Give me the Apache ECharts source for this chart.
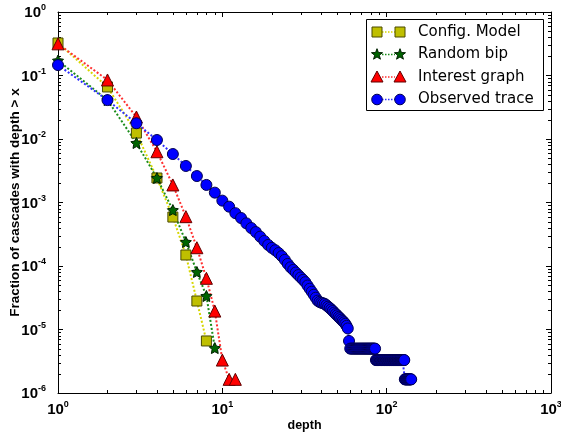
<!DOCTYPE html>
<html><head><meta charset="utf-8">
<script src="https://cdn.jsdelivr.net/npm/echarts@6/dist/echarts.min.js"></script>
<style>html,body{margin:0;padding:0;background:#fff}#c{width:561px;height:436px}</style>
</head><body><div id="c"></div>
<script>
// ---- data ----
const configDepth = [1, 2, 3, 4, 5, 6, 7, 8];
const configValues = [0.325, 0.066, 0.0124, 0.00243, 5.9e-4, 1.49e-4, 2.81e-5, 6.6e-6];

const randomDepth = [1, 2, 3, 4, 5, 6, 7, 8, 9];
const randomValues = [0.172, 0.041, 0.00865, 0.00243, 7.6e-4, 2.39e-4, 8.05e-5, 3.37e-5, 5.1e-6];

const interestDepth = [1, 2, 3, 4, 5, 6, 7, 8, 9, 10, 11, 12];
const interestValues = [0.315, 0.085, 0.0222, 0.0063, 0.00189, 5.98e-4, 1.94e-4, 6.4e-5, 1.95e-5, 3.3e-6, 1.64e-6, 1.64e-6];

const observedDepth = [
  1,2,3,4,5,6,7,8,9,10,11,12,13,14,15,16,17,18,19,20,
  21,22,23,24,25,26,27,28,29,30,31,32,33,34,35,36,37,38,39,40,
  41,42,43,44,45,46,47,48,49,50,51,52,53,54,55,56,57,58,59,60,
  61,62,63,64,65,66,67,68,69,70,71,72,73,74,75,76,77,78,79,80,
  81,82,83,84,85,86,87,88,89,90,91,92,93,94,95,96,97,98,99,100,
  101,102,103,104,105,106,107,108,109,110,111,112,113,114,115,116,117,118,119,120,
  121,122,123,124,125,126,127,128,129,130,131,132,133,134,135,136,137,138,139,140,141
];
const observedValues = [
  0.146, 0.041, 0.0177, 0.00964, 0.0058, 0.00376, 0.00261, 0.00189, 0.00143, 0.00107,
  8.6e-4, 6.8e-4, 5.7e-4, 4.7e-4, 3.96e-4, 3.42e-4, 2.9e-4, 2.48e-4, 2.15e-4, 1.93e-4,
  1.77e-4, 1.6e-4, 1.43e-4, 1.25e-4, 1.08e-4, 9.55e-5, 8.7e-5, 7.9e-5, 7.2e-5, 6.6e-5,
  6.06e-5, 5.56e-5, 4.93e-5, 4.39e-5, 3.94e-5, 3.53e-5, 3.17e-5, 2.85e-5, 2.72e-5, 2.64e-5,
  2.59e-5, 2.53e-5, 2.41e-5, 2.29e-5, 2.18e-5, 2.07e-5, 1.96e-5, 1.85e-5, 1.75e-5, 1.67e-5,
  1.58e-5, 1.51e-5, 1.43e-5, 1.36e-5, 1.3e-5, 1.23e-5, 1.14e-5, 1.04e-5, 6.6e-6, 5.0e-6,
  5.0e-6, 5.0e-6, 5.0e-6, 5.0e-6, 5.0e-6, 5.0e-6, 5.0e-6, 5.0e-6, 5.0e-6, 5.0e-6,
  5.0e-6, 5.0e-6, 5.0e-6, 5.0e-6, 5.0e-6, 5.0e-6, 5.0e-6, 5.0e-6, 5.0e-6, 5.0e-6,
  5.0e-6, 5.0e-6, 5.0e-6, 5.0e-6, 5.0e-6, 3.3e-6, 3.3e-6, 3.3e-6, 3.3e-6, 3.3e-6,
  3.3e-6, 3.3e-6, 3.3e-6, 3.3e-6, 3.3e-6, 3.3e-6, 3.3e-6, 3.3e-6, 3.3e-6, 3.3e-6,
  3.3e-6, 3.3e-6, 3.3e-6, 3.3e-6, 3.3e-6, 3.3e-6, 3.3e-6, 3.3e-6, 3.3e-6, 3.3e-6,
  3.3e-6, 3.3e-6, 3.3e-6, 3.3e-6, 3.3e-6, 3.3e-6, 3.3e-6, 3.3e-6, 3.3e-6, 3.3e-6,
  3.3e-6, 3.3e-6, 3.3e-6, 3.3e-6, 3.3e-6, 3.3e-6, 3.3e-6, 3.3e-6, 1.64e-6, 1.64e-6,
  1.64e-6, 1.64e-6, 1.64e-6, 1.64e-6, 1.64e-6, 1.64e-6, 1.64e-6, 1.64e-6, 1.64e-6, 1.64e-6, 1.64e-6
];

const seriesNames = ['Config. Model', 'Random bip', 'Interest graph', 'Observed trace'];
const xTickExponents = [0, 1, 2, 3];
const yTickExponents = [-6, -5, -4, -3, -2, -1, 0];
const xTitle = 'depth';
const yTitle = 'Fraction of cascades with depth > x';

// ---- styling ----
const FONT = 'Liberation Sans';
const STAR = 'path://M0,-10 L2.94,-4.05 L9.51,-3.09 L4.76,1.55 L5.88,8.09 L0,5 L-5.88,8.09 L-4.76,1.55 L-9.51,-3.09 L-2.94,-4.05 Z';
const styles = [
  {symbol: 'rect', size: 10, fill: '#bfbf00', edge: '#4a4a00', line: '#d6d600'},
  {symbol: STAR, size: 11, fill: '#006400', edge: '#002000', line: '#1a8c1a'},
  {symbol: 'triangle', size: 12, fill: '#ff0000', edge: '#600000', line: '#ff3030'},
  {symbol: 'circle', size: 11, fill: '#0000ff', edge: '#000050', line: '#3030ff'}
];
const dataSets = [
  [configDepth, configValues],
  [randomDepth, randomValues],
  [interestDepth, interestValues],
  [observedDepth, observedValues]
];

const rich = {
  b: {fontSize: 15, fontWeight: 'bold', fontFamily: FONT, color: '#000', lineHeight: 17, verticalAlign: 'bottom'},
  s: {fontSize: 9, fontWeight: 'bold', fontFamily: FONT, color: '#000', lineHeight: 9, verticalAlign: 'top'}
};
function fmt(v) {
  const e = Math.round(Math.log10(v));
  return '{b|10}{s|' + e + '}';
}
const xMin = Math.pow(10, xTickExponents[0]), xMax = Math.pow(10, xTickExponents[xTickExponents.length - 1]);
const yMin = Math.pow(10, yTickExponents[0]), yMax = Math.pow(10, yTickExponents[yTickExponents.length - 1]);

function logAxis(min, max, split, pos, label, extra) {
  return Object.assign({
    type: 'log', logBase: 10, min: min, max: max, splitNumber: split, position: pos,
    nameMoveOverlap: false,
    axisLine: {show: true, onZero: false, lineStyle: {color: '#000', width: 1}},
    axisTick: {show: true, inside: true, length: 5, lineStyle: {color: '#000', width: 1}},
    splitLine: {show: false},
    axisLabel: label ? {formatter: fmt, rich: rich, margin: label} : {show: false}
  }, extra || {});
}

const chart = echarts.init(document.getElementById('c'), null, {renderer: 'canvas'});
const option = {
  animation: false,
  backgroundColor: '#fff',
  grid: {left: 58, right: 10, top: 12, bottom: 43, containLabel: false, outerBoundsMode: 'none'},
  xAxis: [
    logAxis(xMin, xMax, 3, 'bottom', 7, {
      name: xTitle, nameLocation: 'middle', nameGap: 26,
      nameTextStyle: {fontWeight: 'bold', fontSize: 12.5, fontFamily: FONT, color: '#000'}
    }),
    logAxis(xMin, xMax, 3, 'top', 0)
  ],
  yAxis: [
    logAxis(yMin, yMax, 6, 'left', 12, {
      name: yTitle, nameLocation: 'middle', nameGap: 36,
      nameTextStyle: {fontWeight: 'bold', fontSize: 13.5, fontFamily: FONT, color: '#000'}
    }),
    logAxis(yMin, yMax, 6, 'right', 0)
  ],
  series: dataSets.map((ds, i) => ({
    name: seriesNames[i],
    type: 'line',
    xAxisIndex: 0, yAxisIndex: 0,
    data: ds[0].map((d, k) => [d, ds[1][k]]),
    symbol: styles[i].symbol,
    symbolSize: styles[i].size,
    showAllSymbol: true,
    itemStyle: {color: styles[i].fill, borderColor: styles[i].edge, borderWidth: 1},
    lineStyle: {color: styles[i].line, width: 2, type: [2, 2]},
    emphasis: {disabled: true}
  }))
};
chart.setOption(option);

// ---- minor ticks (positions via the axes' own scales) + legend ----
const g = [];
const px = v => chart.convertToPixel({xAxisIndex: 0}, v);
const py = v => chart.convertToPixel({yAxisIndex: 0}, v);
const xL = px(xMin), xR = px(xMax), yT = py(yMax), yB = py(yMin);
function seg(x1, y1, x2, y2) {
  g.push({type: 'line', silent: true, shape: {x1: x1, y1: y1, x2: x2, y2: y2}, style: {stroke: '#000', lineWidth: 1}});
}
for (let e = xTickExponents[0]; e < xTickExponents[xTickExponents.length - 1]; e++) {
  for (let m = 2; m <= 9; m++) {
    const x = Math.round(px(m * Math.pow(10, e))) + 0.5;
    seg(x, yB, x, yB - 3);
    seg(x, yT, x, yT + 3);
  }
}
for (let e = yTickExponents[0]; e < yTickExponents[yTickExponents.length - 1]; e++) {
  for (let m = 2; m <= 9; m++) {
    const y = Math.round(py(m * Math.pow(10, e))) + 0.5;
    seg(xL, y, xL + 3, y);
    seg(xR, y, xR - 3, y);
  }
}

// legend box
const lgX = 366.5, lgY = 19.5, lgW = 177, lgH = 91;
g.push({type: 'rect', silent: true, z: 10, shape: {x: lgX, y: lgY, width: lgW, height: lgH}, style: {fill: '#fff', stroke: '#000', lineWidth: 1}});
const rowY = [32, 54.5, 77, 99.5];
const m1 = 377, m2 = 400, tx = 418;
function marker(i, x, y) {
  const s = styles[i];
  const st = {fill: s.fill, stroke: s.edge, lineWidth: 1};
  if (i === 0) return {type: 'rect', z: 12, silent: true, shape: {x: x - 5, y: y - 5, width: 10, height: 10}, style: st};
  if (i === 1) {
    const pts = [];
    for (let k = 0; k < 10; k++) {
      const r = k % 2 === 0 ? 5.8 : 2.4;
      const a = -Math.PI / 2 + k * Math.PI / 5;
      pts.push([x + r * Math.cos(a), y + r * Math.sin(a)]);
    }
    return {type: 'polygon', z: 12, silent: true, shape: {points: pts}, style: st};
  }
  if (i === 2) return {type: 'polygon', z: 12, silent: true, shape: {points: [[x, y - 6], [x + 6, y + 5], [x - 6, y + 5]]}, style: st};
  return {type: 'circle', z: 12, silent: true, shape: {cx: x, cy: y, r: 5.3}, style: st};
}
rowY.forEach((y, i) => {
  g.push({type: 'line', z: 11, silent: true, shape: {x1: m1 + 5, y1: y, x2: m2 - 5, y2: y}, style: {stroke: styles[i].line, lineWidth: 1.5, lineDash: [1.5, 1.5]}});
  g.push(marker(i, m1, y));
  g.push(marker(i, m2, y));
  g.push({type: 'text', z: 12, silent: true, x: tx, y: y, style: {text: seriesNames[i], fill: '#000', font: '15px "DejaVu Sans"', verticalAlign: 'middle', align: 'left'}});
});
chart.setOption({graphic: g});
</script>
</body></html>
